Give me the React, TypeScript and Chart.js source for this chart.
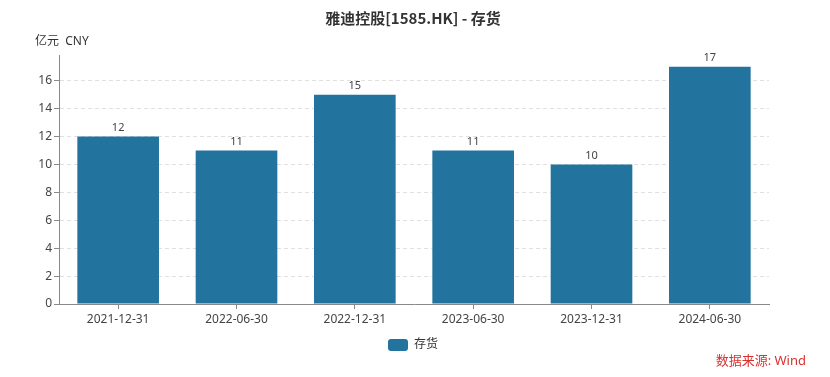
import React, { useEffect, useRef } from "react";
import { Chart, registerables } from "chart.js";

Chart.register(...registerables);

const categories = ["2021-12-31", "2022-06-30", "2022-12-31", "2023-06-30", "2023-12-31", "2024-06-30"];
const inventory = [12, 11, 15, 11, 10, 17];
const seriesName = "存货";
const titleText = "雅迪控股[1585.HK] - 存货";
const unitText = "亿元  CNY";
const sourceText = "数据来源: Wind";

const FONT = '"Noto Sans", "Noto Sans CJK SC", sans-serif';
const TFONT = '"Noto Sans CJK SC", "Noto Sans", sans-serif';
const BAR = "#22749f";

const overlay = {
  id: "overlay",
  afterDraw(chart: any) {
    const ctx = chart.ctx;
    ctx.save();
    // title
    ctx.fillStyle = "#333";
    ctx.font = `bold 15px ${TFONT}`;
    ctx.textAlign = "center";
    ctx.textBaseline = "middle";
    ctx.fillText(titleText, 413, 18);
    // unit
    ctx.font = `12px ${FONT}`;
    ctx.textAlign = "left";
    ctx.fillText(unitText, 35, 42);
    // data labels
    const meta = chart.getDatasetMeta(0);
    ctx.font = `11px ${FONT}`;
    ctx.textAlign = "center";
    ctx.textBaseline = "bottom";
    ctx.fillStyle = "#444";
    meta.data.forEach((el: any, i: number) => {
      ctx.fillText(String(inventory[i]), el.x, el.y - 3);
    });
    // legend
    const lx = 388, ly = 339;
    ctx.fillStyle = BAR;
    ctx.beginPath();
    if (ctx.roundRect) ctx.roundRect(lx, ly, 20, 12, 3); else ctx.rect(lx, ly, 20, 12);
    ctx.fill();
    ctx.fillStyle = "#333";
    ctx.font = `12px ${FONT}`;
    ctx.textAlign = "left";
    ctx.textBaseline = "middle";
    ctx.fillText(seriesName, 414, 345);
    // source
    ctx.fillStyle = "#d9312f";
    ctx.font = `13px ${FONT}`;
    ctx.textAlign = "right";
    ctx.fillText(sourceText, 806, 361);
    ctx.restore();
  },
};

export default function App() {
  const ref = useRef<HTMLCanvasElement>(null);
  useEffect(() => {
    document.body.style.margin = "0";
    const chart = new Chart(ref.current!, {
      type: "bar",
      data: {
        labels: categories,
        datasets: [
          {
            label: seriesName,
            data: inventory,
            backgroundColor: BAR,
            borderWidth: 0,
            barPercentage: 0.69,
            categoryPercentage: 1,
          },
        ],
      },
      options: {
        animation: false,
        responsive: false,
        layout: { padding: { top: 55, left: 0, right: 61, bottom: 43 } },
        plugins: { legend: { display: false }, title: { display: false }, tooltip: { enabled: false } },
        scales: {
          x: {
            offset: true,
            grid: { offset: false, drawOnChartArea: false, drawTicks: true, tickLength: 5, tickColor: "#888" },
            border: { display: true, color: "#888", width: 1 },
            ticks: { color: "#444", font: { family: FONT, size: 12 }, padding: 3, maxRotation: 0 },
            afterFit: (s: any) => { s.height = 30; },
          },
          y: {
            min: 0,
            max: 17.85,
            grid: { color: "#e0e0e0", tickColor: "#888", tickLength: 5, tickBorderDash: [] },
            border: { display: true, color: "#888", width: 1, dash: [4, 3] },
            ticks: { stepSize: 2, color: "#444", font: { family: FONT, size: 12 }, padding: 2 },
            afterBuildTicks: (s: any) => { s.ticks = s.ticks.filter((t: any) => Number.isInteger(t.value)); },
            afterFit: (s: any) => { s.width = 59; },
          },
        },
      },
      plugins: [overlay],
    });
    return () => chart.destroy();
  }, []);
  return <canvas ref={ref} width={830} height={377} style={{ display: "block" }} />;
}
